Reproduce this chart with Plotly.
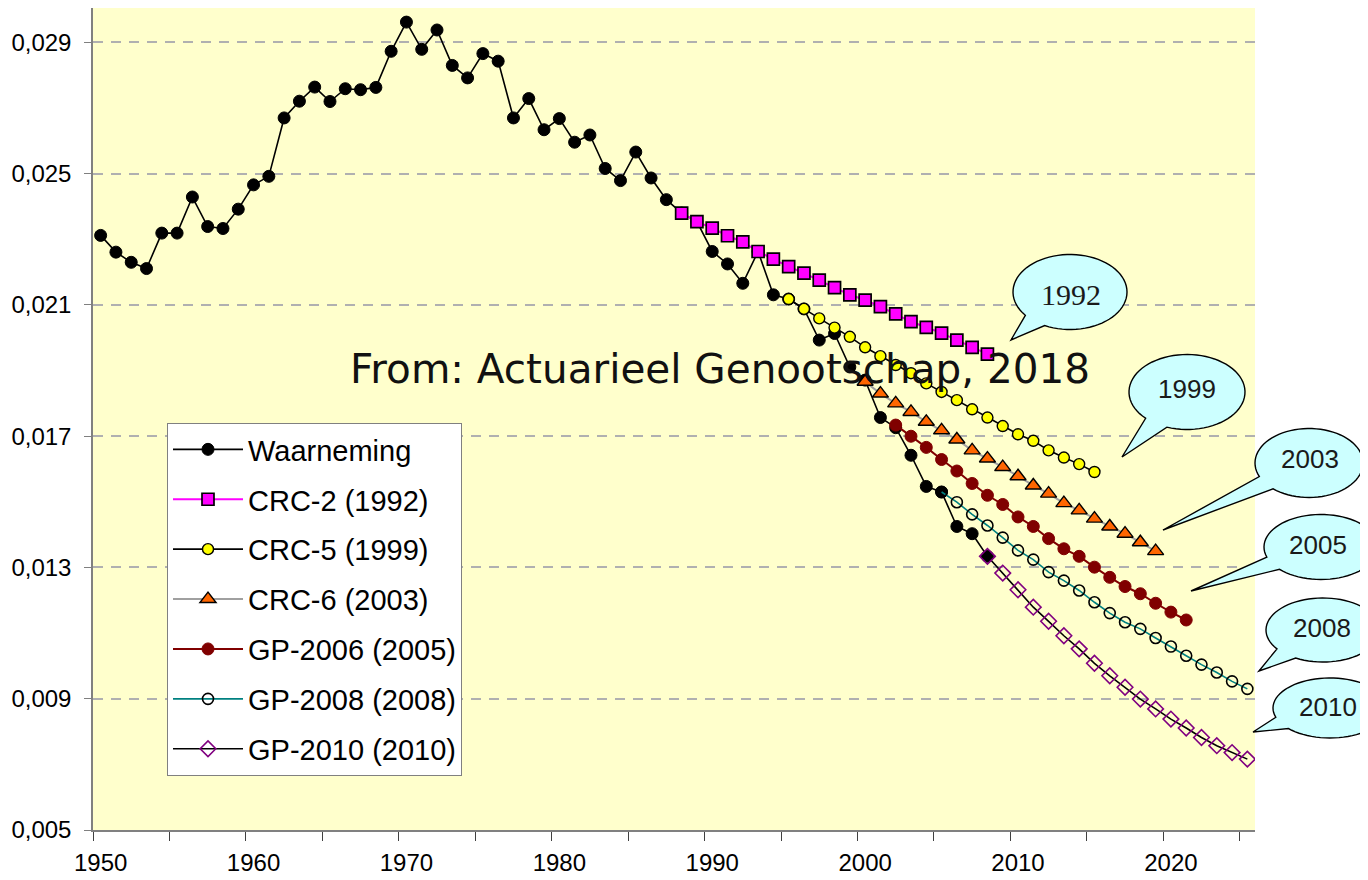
import math
import plotly.graph_objects as go

# ---------------- data ----------------
obs_years = list(range(1950, 2009))
obs_vals = [0.02312, 0.02261, 0.02230, 0.02211, 0.02319, 0.02319, 0.02429, 0.02339, 0.02333, 0.02392,
            0.02466, 0.02492, 0.02670, 0.02721, 0.02764, 0.02720, 0.02759, 0.02756, 0.02763, 0.02873,
            0.02962, 0.02879, 0.02938, 0.02830, 0.02792, 0.02866, 0.02843, 0.02670, 0.02729, 0.02634,
            0.02668, 0.02596, 0.02618, 0.02516, 0.02479, 0.02566, 0.02487, 0.02421, 0.02380, 0.02354,
            0.02263, 0.02225, 0.02166, 0.02263, 0.02131, 0.02118, 0.02088, 0.01993, 0.02013, 0.01911,
            0.01871, 0.01757, 0.01726, 0.01642, 0.01547, 0.01530, 0.01425, 0.01403, 0.01334]

crc2_years = list(range(1988, 2009))
crc2_vals = [0.02380, 0.02354, 0.02334, 0.02311, 0.02292, 0.02263, 0.02240, 0.02217, 0.02197, 0.02176,
             0.02153, 0.02131, 0.02115, 0.02095, 0.02073, 0.02049, 0.02032, 0.02014, 0.01993, 0.01971,
             0.01950]

crc5_years = list(range(1995, 2016))
crc5_vals = [0.02118, 0.02088, 0.02059, 0.02031, 0.02003, 0.01971, 0.01944, 0.01917, 0.01892, 0.01861,
             0.01835, 0.01810, 0.01782, 0.01757, 0.01731, 0.01706, 0.01686, 0.01657, 0.01635, 0.01615,
             0.01591]

crc6_years = list(range(2000, 2020))
crc6_vals = [0.01866, 0.01830, 0.01800, 0.01774, 0.01744, 0.01718, 0.01690, 0.01657, 0.01632, 0.01606,
             0.01578, 0.01550, 0.01525, 0.01496, 0.01474, 0.01449, 0.01425, 0.01403, 0.01377, 0.01350]

gp2006_years = list(range(2002, 2022))
gp2006_vals = [0.01734, 0.01700, 0.01666, 0.01629, 0.01594, 0.01556, 0.01520, 0.01492, 0.01454, 0.01425,
               0.01388, 0.01357, 0.01334, 0.01301, 0.01270, 0.01242, 0.01220, 0.01191, 0.01164, 0.01140]

gp2008_years = list(range(2005, 2026))
gp2008_vals = [0.01530, 0.01499, 0.01462, 0.01428, 0.01391, 0.01352, 0.01324, 0.01286, 0.01260, 0.01230,
               0.01194, 0.01161, 0.01133, 0.01113, 0.01085, 0.01059, 0.01031, 0.01004, 0.00980, 0.00953,
               0.00930]

gp2010_years = list(range(2008, 2026))
gp2010_vals = [0.01334, 0.01283, 0.01232, 0.01179, 0.01136, 0.01092, 0.01052, 0.01008, 0.00970, 0.00935,
               0.00899, 0.00869, 0.00838, 0.00811, 0.00782, 0.00757, 0.00736, 0.00716]

x_tick_vals = [1950, 1960, 1970, 1980, 1990, 2000, 2010, 2020]
y_tick_vals = [0.005, 0.009, 0.013, 0.017, 0.021, 0.025, 0.029]

callout_labels = ["1992", "1999", "2003", "2005", "2008", "2010"]

# ---------------- layout geometry ----------------
# The page body has an 8px default margin, so the figure is drawn 8px right/down.
OFF = 8
W, H = 1368 - OFF, 880 - OFF
ML, MR, MT, MB = 85, 113, 0, 50
PW, PH = W - ML - MR, H - MT - MB


def fx(px):
    """page pixel x -> paper x"""
    return (px - OFF - ML) / PW


def fy(py):
    """page pixel y -> paper y"""
    return (H - MB - (py - OFF)) / PH


SANS = "Liberation Sans, Arial, sans-serif"

fig = go.Figure()


def add_series(name, xs, ys, line_color, line_width, symbol, msize, mcolor, mline_color, mline_width):
    fig.add_trace(go.Scatter(
        x=xs, y=ys, name=name, legendgroup=name, mode="lines+markers",
        line=dict(color=line_color, width=line_width),
        marker=dict(symbol=symbol, size=msize, color=mcolor,
                    line=dict(color=mline_color, width=mline_width)),
    ))


add_series("Waarneming", obs_years, obs_vals, "#000000", 1.6, "circle", 12, "#000000", "#000000", 1)
add_series("CRC-2 (1992)", crc2_years, crc2_vals, "#FF00FF", 2, "square", 12, "#FF00FF", "#000000", 1.7)
add_series("CRC-5 (1999)", crc5_years, crc5_vals, "#000000", 1.6, "circle", 11, "#FFFF00", "#000000", 1.4)
add_series("CRC-6 (2003)", crc6_years, crc6_vals, "#A0A0A0", 2, "triangle-up", 14, "#FF6600", "#000000", 1.4)
add_series("GP-2006 (2005)", gp2006_years, gp2006_vals, "#800000", 2, "circle", 12, "#800000", "#800000", 1)
add_series("GP-2008 (2008)", gp2008_years, gp2008_vals, "#008080", 1.6, "circle-open", 11, "#000000", "#000000", 1.6)
add_series("GP-2010 (2010)", gp2010_years, gp2010_vals, "#000000", 1.6, "diamond-open", 12, "#800080", "#800080", 1.6)

# ---------------- callout bubbles (page pixel geometry) ----------------
bubbles = [
    # cx, cy, rx, ry, tipx, tipy, text cx, text cy
    (1070, 292, 57, 37.5, 1011, 340, 1071, 294),
    (1187, 392, 58, 37.5, 1122, 457, 1187, 389),
    (1309, 463, 54, 34.5, 1163, 530, 1310, 459),
    (1321, 547, 57, 32.5, 1191, 591, 1318, 545),
    (1323, 630, 57, 32, 1259, 671, 1322, 628),
    (1330, 708, 57, 30, 1253, 732, 1328, 707),
]

shapes = []
annotations = []
for i, (cx, cy, rx, ry, tx, ty, txc, tyc) in enumerate(bubbles):
    a0 = math.atan2((ty - cy) / ry, (tx - cx) / rx)
    d = 0.22
    n = 72
    start = a0 + d
    end = a0 - d + 2 * math.pi
    path = "M{:.5f},{:.5f}".format(fx(tx), fy(ty))
    for k in range(n + 1):
        a = start + (end - start) * k / n
        path += " L{:.5f},{:.5f}".format(fx(cx + rx * math.cos(a)), fy(cy + ry * math.sin(a)))
    path += " Z"
    shapes.append(dict(type="path", xref="paper", yref="paper", path=path,
                       fillcolor="#CCFFFF", line=dict(color="#000000", width=1.4), layer="above"))
    if i == 0:
        fnt = dict(family="Liberation Serif, Times New Roman, serif", size=30, color="#1a1a1a")
    else:
        fnt = dict(family=SANS, size=26, color="#1a1a1a")
    annotations.append(dict(x=fx(txc), y=fy(tyc), xref="paper", yref="paper", text=callout_labels[i],
                            showarrow=False, font=fnt, xanchor="center", yanchor="middle"))

annotations.append(dict(x=fx(720), y=fy(369), xref="paper", yref="paper",
                        text="From: Actuarieel Genootschap, 2018", showarrow=False,
                        font=dict(family="DejaVu Sans", size=40.5, color="#111111"),
                        xanchor="center", yanchor="middle"))

fig.update_layout(
    width=W, height=H,
    margin=dict(l=ML, r=MR, t=MT, b=MB, autoexpand=False),
    paper_bgcolor="#FFFFFF",
    plot_bgcolor="#FFFFCC",
    separators=",.",
    font=dict(family=SANS, color="#000000"),
    showlegend=True,
    legend=dict(
        x=fx(167), y=fy(423), xanchor="left", yanchor="top",
        bgcolor="#FFFFFF", bordercolor="#808080", borderwidth=1,
        font=dict(family=SANS, size=29, color="#000000"),
        traceorder="grouped", tracegroupgap=9.2, itemwidth=70,
    ),
    xaxis=dict(
        range=[1949.5, 2025.5], tickmode="array", tickvals=x_tick_vals,
        ticks="", showgrid=False, zeroline=False,
        showline=True, linecolor="#808080", linewidth=1.5,
        tickfont=dict(family=SANS, size=24, color="#000000"),
        ticklabelstandoff=10,
        minor=dict(ticks="outside", tick0=1949.5, dtick=5, ticklen=9,
                   tickcolor="#404040", tickwidth=1.2, showgrid=False),
    ),
    yaxis=dict(
        range=[0.005, 0.03005], tickmode="array", tickvals=y_tick_vals, tickformat=".3f",
        ticks="outside", ticklen=7, tickcolor="#808080", tickwidth=1.2,
        showline=True, linecolor="#808080", linewidth=1.5, zeroline=False,
        showgrid=True, gridcolor="#B0B0B0", gridwidth=1.5, griddash="10px,8px",
        tickfont=dict(family=SANS, size=24, color="#000000"),
        ticklabelstandoff=8,
    ),
    shapes=shapes,
    annotations=annotations,
)

fig.write_html("out.html")
